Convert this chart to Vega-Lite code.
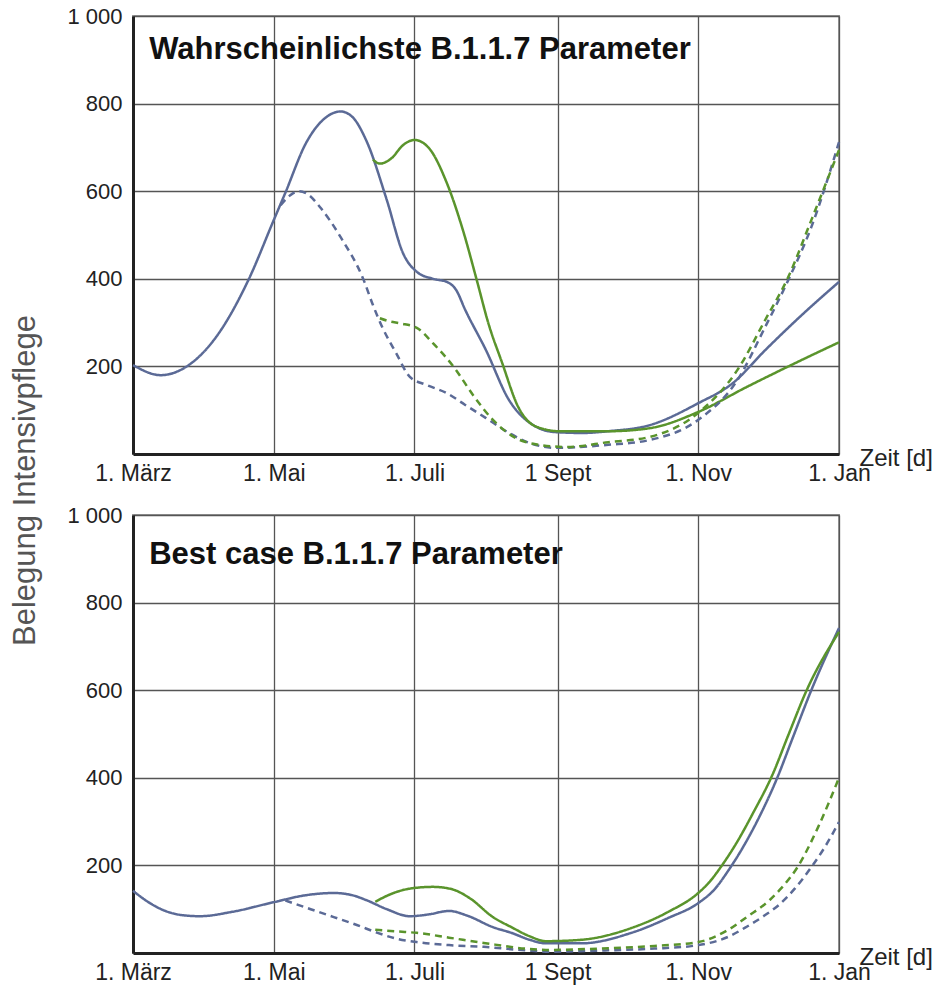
{
  "$schema": "https://vega.github.io/schema/vega-lite/v6.json",
  "background": "white",
  "padding": {"left": 8, "top": 4, "right": 4, "bottom": 4},
  "spacing": 61,
  "bounds": "flush",
  "config": {
    "font": "Liberation Sans",
    "view": {"stroke": "#999", "strokeWidth": 2},
    "axis": {
      "grid": true, "gridColor": "#555", "gridWidth": 1.3,
      "domainColor": "#222", "domainWidth": 3, "ticks": false,
      "labelFontSize": 22, "labelColor": "#222", "labelFont": "Liberation Sans"
    }
  },
  "datasets": {
    "kurven": [
      {"panel":"W","kurve":"blau","linie":"durchgezogen","datum":"2021-03-01","belegung":203},
      {"panel":"W","kurve":"blau","linie":"durchgezogen","datum":"2021-03-13","belegung":180},
      {"panel":"W","kurve":"blau","linie":"durchgezogen","datum":"2021-03-24","belegung":199},
      {"panel":"W","kurve":"blau","linie":"durchgezogen","datum":"2021-04-06","belegung":267},
      {"panel":"W","kurve":"blau","linie":"durchgezogen","datum":"2021-04-20","belegung":397},
      {"panel":"W","kurve":"blau","linie":"durchgezogen","datum":"2021-05-01","belegung":534},
      {"panel":"W","kurve":"blau","linie":"durchgezogen","datum":"2021-05-06","belegung":596},
      {"panel":"W","kurve":"blau","linie":"durchgezogen","datum":"2021-05-15","belegung":710},
      {"panel":"W","kurve":"blau","linie":"durchgezogen","datum":"2021-05-24","belegung":770},
      {"panel":"W","kurve":"blau","linie":"durchgezogen","datum":"2021-05-30","belegung":782},
      {"panel":"W","kurve":"blau","linie":"durchgezogen","datum":"2021-06-04","belegung":770},
      {"panel":"W","kurve":"blau","linie":"durchgezogen","datum":"2021-06-10","belegung":717},
      {"panel":"W","kurve":"blau","linie":"durchgezogen","datum":"2021-06-19","belegung":580},
      {"panel":"W","kurve":"blau","linie":"durchgezogen","datum":"2021-06-26","belegung":459},
      {"panel":"W","kurve":"blau","linie":"durchgezogen","datum":"2021-07-02","belegung":416},
      {"panel":"W","kurve":"blau","linie":"durchgezogen","datum":"2021-07-09","belegung":400},
      {"panel":"W","kurve":"blau","linie":"durchgezogen","datum":"2021-07-15","belegung":393},
      {"panel":"W","kurve":"blau","linie":"durchgezogen","datum":"2021-07-19","belegung":375},
      {"panel":"W","kurve":"blau","linie":"durchgezogen","datum":"2021-07-23","belegung":329},
      {"panel":"W","kurve":"blau","linie":"durchgezogen","datum":"2021-08-01","belegung":237},
      {"panel":"W","kurve":"blau","linie":"durchgezogen","datum":"2021-08-11","belegung":123},
      {"panel":"W","kurve":"blau","linie":"durchgezogen","datum":"2021-08-20","belegung":71},
      {"panel":"W","kurve":"blau","linie":"durchgezogen","datum":"2021-08-31","belegung":50},
      {"panel":"W","kurve":"blau","linie":"durchgezogen","datum":"2021-09-12","belegung":48},
      {"panel":"W","kurve":"blau","linie":"durchgezogen","datum":"2021-09-23","belegung":52},
      {"panel":"W","kurve":"blau","linie":"durchgezogen","datum":"2021-10-11","belegung":66},
      {"panel":"W","kurve":"blau","linie":"durchgezogen","datum":"2021-11-01","belegung":116},
      {"panel":"W","kurve":"blau","linie":"durchgezogen","datum":"2021-11-16","belegung":162},
      {"panel":"W","kurve":"blau","linie":"durchgezogen","datum":"2021-11-30","belegung":237},
      {"panel":"W","kurve":"blau","linie":"durchgezogen","datum":"2021-12-15","belegung":313},
      {"panel":"W","kurve":"blau","linie":"durchgezogen","datum":"2022-01-01","belegung":393},

      {"panel":"W","kurve":"gruen","linie":"durchgezogen","datum":"2021-06-13","belegung":672},
      {"panel":"W","kurve":"gruen","linie":"durchgezogen","datum":"2021-06-16","belegung":663},
      {"panel":"W","kurve":"gruen","linie":"durchgezogen","datum":"2021-06-21","belegung":675},
      {"panel":"W","kurve":"gruen","linie":"durchgezogen","datum":"2021-06-26","belegung":705},
      {"panel":"W","kurve":"gruen","linie":"durchgezogen","datum":"2021-07-01","belegung":717},
      {"panel":"W","kurve":"gruen","linie":"durchgezogen","datum":"2021-07-07","belegung":700},
      {"panel":"W","kurve":"gruen","linie":"durchgezogen","datum":"2021-07-15","belegung":619},
      {"panel":"W","kurve":"gruen","linie":"durchgezogen","datum":"2021-07-22","belegung":511},
      {"panel":"W","kurve":"gruen","linie":"durchgezogen","datum":"2021-07-28","belegung":397},
      {"panel":"W","kurve":"gruen","linie":"durchgezogen","datum":"2021-08-02","belegung":299},
      {"panel":"W","kurve":"gruen","linie":"durchgezogen","datum":"2021-08-08","belegung":208},
      {"panel":"W","kurve":"gruen","linie":"durchgezogen","datum":"2021-08-15","belegung":107},
      {"panel":"W","kurve":"gruen","linie":"durchgezogen","datum":"2021-08-23","belegung":62},
      {"panel":"W","kurve":"gruen","linie":"durchgezogen","datum":"2021-09-02","belegung":52},
      {"panel":"W","kurve":"gruen","linie":"durchgezogen","datum":"2021-09-23","belegung":52},
      {"panel":"W","kurve":"gruen","linie":"durchgezogen","datum":"2021-10-11","belegung":59},
      {"panel":"W","kurve":"gruen","linie":"durchgezogen","datum":"2021-11-01","belegung":96},
      {"panel":"W","kurve":"gruen","linie":"durchgezogen","datum":"2021-11-22","belegung":153},
      {"panel":"W","kurve":"gruen","linie":"durchgezogen","datum":"2021-12-14","belegung":210},
      {"panel":"W","kurve":"gruen","linie":"durchgezogen","datum":"2022-01-01","belegung":255},

      {"panel":"W","kurve":"blau","linie":"gestrichelt","datum":"2021-05-04","belegung":568},
      {"panel":"W","kurve":"blau","linie":"gestrichelt","datum":"2021-05-08","belegung":590},
      {"panel":"W","kurve":"blau","linie":"gestrichelt","datum":"2021-05-12","belegung":600},
      {"panel":"W","kurve":"blau","linie":"gestrichelt","datum":"2021-05-16","belegung":592},
      {"panel":"W","kurve":"blau","linie":"gestrichelt","datum":"2021-05-21","belegung":564},
      {"panel":"W","kurve":"blau","linie":"gestrichelt","datum":"2021-05-30","belegung":495},
      {"panel":"W","kurve":"blau","linie":"gestrichelt","datum":"2021-06-09","belegung":397},
      {"panel":"W","kurve":"blau","linie":"gestrichelt","datum":"2021-06-13","belegung":340},
      {"panel":"W","kurve":"blau","linie":"gestrichelt","datum":"2021-06-17","belegung":290},
      {"panel":"W","kurve":"blau","linie":"gestrichelt","datum":"2021-06-23","belegung":231},
      {"panel":"W","kurve":"blau","linie":"gestrichelt","datum":"2021-06-29","belegung":176},
      {"panel":"W","kurve":"blau","linie":"gestrichelt","datum":"2021-07-06","belegung":158},
      {"panel":"W","kurve":"blau","linie":"gestrichelt","datum":"2021-07-15","belegung":139},
      {"panel":"W","kurve":"blau","linie":"gestrichelt","datum":"2021-07-23","belegung":112},
      {"panel":"W","kurve":"blau","linie":"gestrichelt","datum":"2021-08-01","belegung":82},
      {"panel":"W","kurve":"blau","linie":"gestrichelt","datum":"2021-08-11","belegung":48},
      {"panel":"W","kurve":"blau","linie":"gestrichelt","datum":"2021-08-20","belegung":25},
      {"panel":"W","kurve":"blau","linie":"gestrichelt","datum":"2021-08-31","belegung":14},
      {"panel":"W","kurve":"blau","linie":"gestrichelt","datum":"2021-09-23","belegung":21},
      {"panel":"W","kurve":"blau","linie":"gestrichelt","datum":"2021-10-11","belegung":32},
      {"panel":"W","kurve":"blau","linie":"gestrichelt","datum":"2021-11-01","belegung":78},
      {"panel":"W","kurve":"blau","linie":"gestrichelt","datum":"2021-11-18","belegung":169},
      {"panel":"W","kurve":"blau","linie":"gestrichelt","datum":"2021-11-30","belegung":290},
      {"panel":"W","kurve":"blau","linie":"gestrichelt","datum":"2021-12-10","belegung":397},
      {"panel":"W","kurve":"blau","linie":"gestrichelt","datum":"2021-12-20","belegung":518},
      {"panel":"W","kurve":"blau","linie":"gestrichelt","datum":"2022-01-01","belegung":712},

      {"panel":"W","kurve":"gruen","linie":"gestrichelt","datum":"2021-06-16","belegung":310},
      {"panel":"W","kurve":"gruen","linie":"gestrichelt","datum":"2021-06-20","belegung":303},
      {"panel":"W","kurve":"gruen","linie":"gestrichelt","datum":"2021-06-25","belegung":298},
      {"panel":"W","kurve":"gruen","linie":"gestrichelt","datum":"2021-07-02","belegung":288},
      {"panel":"W","kurve":"gruen","linie":"gestrichelt","datum":"2021-07-09","belegung":253},
      {"panel":"W","kurve":"gruen","linie":"gestrichelt","datum":"2021-07-18","belegung":199},
      {"panel":"W","kurve":"gruen","linie":"gestrichelt","datum":"2021-07-27","belegung":130},
      {"panel":"W","kurve":"gruen","linie":"gestrichelt","datum":"2021-08-04","belegung":78},
      {"panel":"W","kurve":"gruen","linie":"gestrichelt","datum":"2021-08-13","belegung":39},
      {"panel":"W","kurve":"gruen","linie":"gestrichelt","datum":"2021-08-24","belegung":21},
      {"panel":"W","kurve":"gruen","linie":"gestrichelt","datum":"2021-09-05","belegung":16},
      {"panel":"W","kurve":"gruen","linie":"gestrichelt","datum":"2021-09-23","belegung":27},
      {"panel":"W","kurve":"gruen","linie":"gestrichelt","datum":"2021-10-11","belegung":39},
      {"panel":"W","kurve":"gruen","linie":"gestrichelt","datum":"2021-11-01","belegung":94},
      {"panel":"W","kurve":"gruen","linie":"gestrichelt","datum":"2021-11-18","belegung":192},
      {"panel":"W","kurve":"gruen","linie":"gestrichelt","datum":"2021-11-30","belegung":306},
      {"panel":"W","kurve":"gruen","linie":"gestrichelt","datum":"2021-12-10","belegung":404},
      {"panel":"W","kurve":"gruen","linie":"gestrichelt","datum":"2021-12-20","belegung":534},
      {"panel":"W","kurve":"gruen","linie":"gestrichelt","datum":"2022-01-01","belegung":694},

      {"panel":"B","kurve":"blau","linie":"durchgezogen","datum":"2021-03-01","belegung":142},
      {"panel":"B","kurve":"blau","linie":"durchgezogen","datum":"2021-03-08","belegung":115},
      {"panel":"B","kurve":"blau","linie":"durchgezogen","datum":"2021-03-15","belegung":96},
      {"panel":"B","kurve":"blau","linie":"durchgezogen","datum":"2021-03-23","belegung":86},
      {"panel":"B","kurve":"blau","linie":"durchgezogen","datum":"2021-03-30","belegung":84},
      {"panel":"B","kurve":"blau","linie":"durchgezogen","datum":"2021-04-13","belegung":94},
      {"panel":"B","kurve":"blau","linie":"durchgezogen","datum":"2021-05-01","belegung":116},
      {"panel":"B","kurve":"blau","linie":"durchgezogen","datum":"2021-05-15","belegung":132},
      {"panel":"B","kurve":"blau","linie":"durchgezogen","datum":"2021-05-27","belegung":137},
      {"panel":"B","kurve":"blau","linie":"durchgezogen","datum":"2021-06-04","belegung":132},
      {"panel":"B","kurve":"blau","linie":"durchgezogen","datum":"2021-06-10","belegung":121},
      {"panel":"B","kurve":"blau","linie":"durchgezogen","datum":"2021-06-19","belegung":100},
      {"panel":"B","kurve":"blau","linie":"durchgezogen","datum":"2021-06-29","belegung":84},
      {"panel":"B","kurve":"blau","linie":"durchgezogen","datum":"2021-07-07","belegung":88},
      {"panel":"B","kurve":"blau","linie":"durchgezogen","datum":"2021-07-16","belegung":96},
      {"panel":"B","kurve":"blau","linie":"durchgezogen","datum":"2021-07-24","belegung":85},
      {"panel":"B","kurve":"blau","linie":"durchgezogen","datum":"2021-08-04","belegung":59},
      {"panel":"B","kurve":"blau","linie":"durchgezogen","datum":"2021-08-12","belegung":46},
      {"panel":"B","kurve":"blau","linie":"durchgezogen","datum":"2021-08-20","belegung":30},
      {"panel":"B","kurve":"blau","linie":"durchgezogen","datum":"2021-08-27","belegung":22},
      {"panel":"B","kurve":"blau","linie":"durchgezogen","datum":"2021-09-11","belegung":22},
      {"panel":"B","kurve":"blau","linie":"durchgezogen","datum":"2021-10-03","belegung":46},
      {"panel":"B","kurve":"blau","linie":"durchgezogen","datum":"2021-10-19","belegung":80},
      {"panel":"B","kurve":"blau","linie":"durchgezogen","datum":"2021-11-01","belegung":114},
      {"panel":"B","kurve":"blau","linie":"durchgezogen","datum":"2021-11-08","belegung":145},
      {"panel":"B","kurve":"blau","linie":"durchgezogen","datum":"2021-11-14","belegung":188},
      {"panel":"B","kurve":"blau","linie":"durchgezogen","datum":"2021-11-20","belegung":238},
      {"panel":"B","kurve":"blau","linie":"durchgezogen","datum":"2021-11-27","belegung":306},
      {"panel":"B","kurve":"blau","linie":"durchgezogen","datum":"2021-12-05","belegung":397},
      {"panel":"B","kurve":"blau","linie":"durchgezogen","datum":"2021-12-12","belegung":492},
      {"panel":"B","kurve":"blau","linie":"durchgezogen","datum":"2021-12-20","belegung":600},
      {"panel":"B","kurve":"blau","linie":"durchgezogen","datum":"2022-01-01","belegung":742},

      {"panel":"B","kurve":"gruen","linie":"durchgezogen","datum":"2021-06-14","belegung":117},
      {"panel":"B","kurve":"gruen","linie":"durchgezogen","datum":"2021-06-21","belegung":135},
      {"panel":"B","kurve":"gruen","linie":"durchgezogen","datum":"2021-06-29","belegung":147},
      {"panel":"B","kurve":"gruen","linie":"durchgezogen","datum":"2021-07-09","belegung":151},
      {"panel":"B","kurve":"gruen","linie":"durchgezogen","datum":"2021-07-17","belegung":146},
      {"panel":"B","kurve":"gruen","linie":"durchgezogen","datum":"2021-07-25","belegung":125},
      {"panel":"B","kurve":"gruen","linie":"durchgezogen","datum":"2021-08-04","belegung":82},
      {"panel":"B","kurve":"gruen","linie":"durchgezogen","datum":"2021-08-12","belegung":59},
      {"panel":"B","kurve":"gruen","linie":"durchgezogen","datum":"2021-08-20","belegung":38},
      {"panel":"B","kurve":"gruen","linie":"durchgezogen","datum":"2021-08-27","belegung":27},
      {"panel":"B","kurve":"gruen","linie":"durchgezogen","datum":"2021-09-11","belegung":30},
      {"panel":"B","kurve":"gruen","linie":"durchgezogen","datum":"2021-10-03","belegung":57},
      {"panel":"B","kurve":"gruen","linie":"durchgezogen","datum":"2021-10-19","belegung":94},
      {"panel":"B","kurve":"gruen","linie":"durchgezogen","datum":"2021-11-01","belegung":137},
      {"panel":"B","kurve":"gruen","linie":"durchgezogen","datum":"2021-11-06","belegung":163},
      {"panel":"B","kurve":"gruen","linie":"durchgezogen","datum":"2021-11-11","belegung":198},
      {"panel":"B","kurve":"gruen","linie":"durchgezogen","datum":"2021-11-18","belegung":255},
      {"panel":"B","kurve":"gruen","linie":"durchgezogen","datum":"2021-11-25","belegung":322},
      {"panel":"B","kurve":"gruen","linie":"durchgezogen","datum":"2021-12-03","belegung":405},
      {"panel":"B","kurve":"gruen","linie":"durchgezogen","datum":"2021-12-10","belegung":497},
      {"panel":"B","kurve":"gruen","linie":"durchgezogen","datum":"2021-12-18","belegung":600},
      {"panel":"B","kurve":"gruen","linie":"durchgezogen","datum":"2022-01-01","belegung":733},

      {"panel":"B","kurve":"blau","linie":"gestrichelt","datum":"2021-05-06","belegung":120},
      {"panel":"B","kurve":"blau","linie":"gestrichelt","datum":"2021-05-17","belegung":100},
      {"panel":"B","kurve":"blau","linie":"gestrichelt","datum":"2021-05-27","belegung":82},
      {"panel":"B","kurve":"blau","linie":"gestrichelt","datum":"2021-06-06","belegung":64},
      {"panel":"B","kurve":"blau","linie":"gestrichelt","datum":"2021-06-15","belegung":46},
      {"panel":"B","kurve":"blau","linie":"gestrichelt","datum":"2021-06-23","belegung":33},
      {"panel":"B","kurve":"blau","linie":"gestrichelt","datum":"2021-07-02","belegung":25},
      {"panel":"B","kurve":"blau","linie":"gestrichelt","datum":"2021-07-16","belegung":18},
      {"panel":"B","kurve":"blau","linie":"gestrichelt","datum":"2021-07-31","belegung":14},
      {"panel":"B","kurve":"blau","linie":"gestrichelt","datum":"2021-08-18","belegung":6},
      {"panel":"B","kurve":"blau","linie":"gestrichelt","datum":"2021-08-27","belegung":3},
      {"panel":"B","kurve":"blau","linie":"gestrichelt","datum":"2021-09-23","belegung":6},
      {"panel":"B","kurve":"blau","linie":"gestrichelt","datum":"2021-10-13","belegung":10},
      {"panel":"B","kurve":"blau","linie":"gestrichelt","datum":"2021-11-01","belegung":18},
      {"panel":"B","kurve":"blau","linie":"gestrichelt","datum":"2021-11-14","belegung":37},
      {"panel":"B","kurve":"blau","linie":"gestrichelt","datum":"2021-11-22","belegung":60},
      {"panel":"B","kurve":"blau","linie":"gestrichelt","datum":"2021-11-29","belegung":83},
      {"panel":"B","kurve":"blau","linie":"gestrichelt","datum":"2021-12-06","belegung":110},
      {"panel":"B","kurve":"blau","linie":"gestrichelt","datum":"2021-12-13","belegung":148},
      {"panel":"B","kurve":"blau","linie":"gestrichelt","datum":"2021-12-20","belegung":196},
      {"panel":"B","kurve":"blau","linie":"gestrichelt","datum":"2021-12-26","belegung":243},
      {"panel":"B","kurve":"blau","linie":"gestrichelt","datum":"2022-01-01","belegung":299},

      {"panel":"B","kurve":"gruen","linie":"gestrichelt","datum":"2021-06-14","belegung":53},
      {"panel":"B","kurve":"gruen","linie":"gestrichelt","datum":"2021-06-24","belegung":49},
      {"panel":"B","kurve":"gruen","linie":"gestrichelt","datum":"2021-07-02","belegung":46},
      {"panel":"B","kurve":"gruen","linie":"gestrichelt","datum":"2021-07-16","belegung":35},
      {"panel":"B","kurve":"gruen","linie":"gestrichelt","datum":"2021-07-31","belegung":23},
      {"panel":"B","kurve":"gruen","linie":"gestrichelt","datum":"2021-08-18","belegung":10},
      {"panel":"B","kurve":"gruen","linie":"gestrichelt","datum":"2021-08-27","belegung":7},
      {"panel":"B","kurve":"gruen","linie":"gestrichelt","datum":"2021-09-23","belegung":11},
      {"panel":"B","kurve":"gruen","linie":"gestrichelt","datum":"2021-10-13","belegung":16},
      {"panel":"B","kurve":"gruen","linie":"gestrichelt","datum":"2021-11-01","belegung":25},
      {"panel":"B","kurve":"gruen","linie":"gestrichelt","datum":"2021-11-14","belegung":53},
      {"panel":"B","kurve":"gruen","linie":"gestrichelt","datum":"2021-11-22","belegung":82},
      {"panel":"B","kurve":"gruen","linie":"gestrichelt","datum":"2021-12-02","belegung":121},
      {"panel":"B","kurve":"gruen","linie":"gestrichelt","datum":"2021-12-07","belegung":148},
      {"panel":"B","kurve":"gruen","linie":"gestrichelt","datum":"2021-12-14","belegung":196},
      {"panel":"B","kurve":"gruen","linie":"gestrichelt","datum":"2021-12-23","belegung":288},
      {"panel":"B","kurve":"gruen","linie":"gestrichelt","datum":"2022-01-01","belegung":400}
    ]
  },
  "vconcat": [
    {
      "width": 706,
      "height": 438,
      "layer": [
        {
          "data": {"name": "kurven"},
          "transform": [{"filter": "datum.panel == 'W'"}],
          "mark": {"type": "line", "interpolate": "monotone", "strokeWidth": 2.5},
          "encoding": {
            "x": {
              "field": "datum", "type": "temporal",
              "scale": {"type": "utc", "domain": [{"year": 2021, "month": 3, "date": 1, "utc": true}, {"year": 2022, "month": 1, "date": 1, "utc": true}]},
              "axis": {
                "values": [
                  {"year": 2021, "month": 3, "date": 1, "utc": true},
                  {"year": 2021, "month": 5, "date": 1, "utc": true},
                  {"year": 2021, "month": 7, "date": 1, "utc": true},
                  {"year": 2021, "month": 9, "date": 1, "utc": true},
                  {"year": 2021, "month": 11, "date": 1, "utc": true},
                  {"year": 2022, "month": 1, "date": 1, "utc": true}
                ],
                "labelExpr": "utcmonth(datum.value)==2 ? '1. März' : utcmonth(datum.value)==4 ? '1. Mai' : utcmonth(datum.value)==6 ? '1. Juli' : utcmonth(datum.value)==8 ? '1 Sept' : utcmonth(datum.value)==10 ? '1. Nov' : '1. Jan'",
                "labelFontSize": 23, "labelPadding": 8, "labelFlush": false, "labelOverlap": false,
                "title": "Zeit [d]", "titleX": 726, "titleY": 11, "titleAlign": "left",
                "titleBaseline": "alphabetic", "titleFontSize": 24, "titleFontWeight": "normal", "titleColor": "#222"
              }
            },
            "y": {
              "field": "belegung", "type": "quantitative",
              "scale": {"domain": [0, 1000], "nice": false},
              "axis": {
                "values": [200, 400, 600, 800, 1000],
                "labelExpr": "datum.value == 1000 ? '1 000' : datum.label",
                "labelPadding": 11,
                "title": "Belegung Intensivpflege", "titleAngle": -90, "titleX": -99, "titleY": 464,
                "titleAlign": "center", "titleBaseline": "alphabetic", "titleFontSize": 31,
                "titleFontWeight": "normal", "titleColor": "#555"
              }
            },
            "color": {"field": "kurve", "type": "nominal", "scale": {"domain": ["blau", "gruen"], "range": ["#5b6a96", "#5a942c"]}, "legend": null},
            "strokeDash": {"field": "linie", "type": "nominal", "scale": {"domain": ["durchgezogen", "gestrichelt"], "range": [[1, 0], [7, 5]]}, "legend": null}
          }
        },
        {
          "data": {"values": [{"titel": "Wahrscheinlichste B.1.1.7 Parameter"}]},
          "mark": {"type": "text", "fontSize": 31, "fontWeight": "bold", "align": "left", "baseline": "alphabetic", "color": "#111"},
          "encoding": {
            "x": {"datum": {"year": 2021, "month": 3, "date": 8, "utc": true}, "type": "temporal"},
            "y": {"datum": 902, "type": "quantitative"},
            "text": {"field": "titel"}
          }
        }
      ]
    },
    {
      "width": 706,
      "height": 438,
      "layer": [
        {
          "data": {"name": "kurven"},
          "transform": [{"filter": "datum.panel == 'B'"}],
          "mark": {"type": "line", "interpolate": "monotone", "strokeWidth": 2.5},
          "encoding": {
            "x": {
              "field": "datum", "type": "temporal",
              "scale": {"type": "utc", "domain": [{"year": 2021, "month": 3, "date": 1, "utc": true}, {"year": 2022, "month": 1, "date": 1, "utc": true}]},
              "axis": {
                "values": [
                  {"year": 2021, "month": 3, "date": 1, "utc": true},
                  {"year": 2021, "month": 5, "date": 1, "utc": true},
                  {"year": 2021, "month": 7, "date": 1, "utc": true},
                  {"year": 2021, "month": 9, "date": 1, "utc": true},
                  {"year": 2021, "month": 11, "date": 1, "utc": true},
                  {"year": 2022, "month": 1, "date": 1, "utc": true}
                ],
                "labelExpr": "utcmonth(datum.value)==2 ? '1. März' : utcmonth(datum.value)==4 ? '1. Mai' : utcmonth(datum.value)==6 ? '1. Juli' : utcmonth(datum.value)==8 ? '1 Sept' : utcmonth(datum.value)==10 ? '1. Nov' : '1. Jan'",
                "labelFontSize": 23, "labelPadding": 8, "labelFlush": false, "labelOverlap": false,
                "title": "Zeit [d]", "titleX": 726, "titleY": 11, "titleAlign": "left",
                "titleBaseline": "alphabetic", "titleFontSize": 24, "titleFontWeight": "normal", "titleColor": "#222"
              }
            },
            "y": {
              "field": "belegung", "type": "quantitative",
              "scale": {"domain": [0, 1000], "nice": false},
              "axis": {
                "values": [200, 400, 600, 800, 1000],
                "labelExpr": "datum.value == 1000 ? '1 000' : datum.label",
                "labelPadding": 11,
                "title": null
              }
            },
            "color": {"field": "kurve", "type": "nominal", "scale": {"domain": ["blau", "gruen"], "range": ["#5b6a96", "#5a942c"]}, "legend": null},
            "strokeDash": {"field": "linie", "type": "nominal", "scale": {"domain": ["durchgezogen", "gestrichelt"], "range": [[1, 0], [7, 5]]}, "legend": null}
          }
        },
        {
          "data": {"values": [{"titel": "Best case B.1.1.7 Parameter"}]},
          "mark": {"type": "text", "fontSize": 31, "fontWeight": "bold", "align": "left", "baseline": "alphabetic", "color": "#111"},
          "encoding": {
            "x": {"datum": {"year": 2021, "month": 3, "date": 8, "utc": true}, "type": "temporal"},
            "y": {"datum": 888, "type": "quantitative"},
            "text": {"field": "titel"}
          }
        }
      ]
    }
  ]
}
